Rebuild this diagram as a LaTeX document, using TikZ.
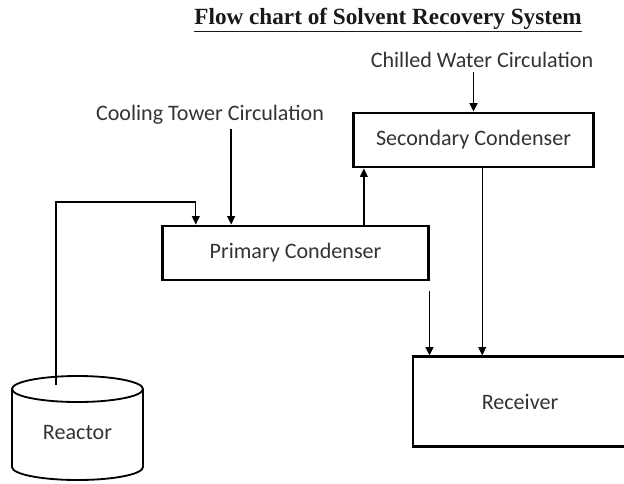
\documentclass[tikz,border=0pt]{standalone}
\usepackage{fontspec}
\setmainfont{Carlito}
\newfontfamily\headfont{Liberation Serif}
\usetikzlibrary{arrows.meta,calc}

\begin{document}
\begin{tikzpicture}[x=0.025cm, y=-0.025cm,
    font=\fontsize{15.7}{18}\selectfont, text=black!80,
    unit/.style={rectangle, draw, line width=2pt, inner sep=0pt},
    feed/.style={inner sep=3pt},
    arr/.style={-{Triangle[length=6pt,width=5.5pt]}}]
    \useasboundingbox (0,0) rectangle (624,483);
    \clip (0,0) rectangle (624,483);
    \node (title) [text=black!90] at (388,20) {\headfont\bfseries\fontsize{16.5}{20}\selectfont\underline{Flow chart of Solvent Recovery System}};
    \node (chill) [feed] at (482,60) {Chilled Water Circulation};
    \node (cool) [feed] at (210,115) {Cooling Tower Circulation};
    \node (sec) [unit, minimum width=5.98cm, minimum height=1.35cm] at (473.5,140) {Secondary Condenser};
    \node (prim) [unit, minimum width=6.63cm, minimum height=1.35cm] at (295.5,253) {Primary Condenser};
    \node (recv) [unit, minimum width=5.35cm, minimum height=2.23cm] at (520,401.5) {Receiver};
    \node (reac) at (77.5,432) {Reactor};
    % reactor drum
    \draw[line width=1.3pt] (12,389) -- (12,467) arc[x radius=65.5, y radius=13, start angle=180, end angle=0] -- (143,389);
    \draw[line width=1.3pt] (77.5,389) ellipse[x radius=65.5, y radius=13];
    \coordinate (rtop) at (56,385);
    \coordinate (vin) at ($(prim.north west)!0.128!(prim.north east)$);
    \coordinate (tw) at ($(prim.north west)!0.26!(prim.north east)$);
    \coordinate (vout) at ($(prim.north west)!0.755!(prim.north east)$);
    \coordinate (cd) at ($(sec.south west)!0.536!(sec.south east)$);
    \draw[arr, line width=0.9pt] (rtop) -- ++(0,-183) -| (vin);
    \draw[arr, line width=1.1pt] (cool.south -| tw) -- (tw);
    \draw[arr, line width=1.4pt] (chill.south -| sec.north) -- (sec.north);
    \draw[arr, line width=0.9pt] (vout) -- (vout |- sec.south);
    \draw[arr, line width=0.8pt] (cd) -- (cd |- recv.north);
    \draw[arr, line width=1.3pt] ([yshift=-7pt]prim.south east) -- (prim.south east |- recv.north);
  \end{tikzpicture}
\end{document}
